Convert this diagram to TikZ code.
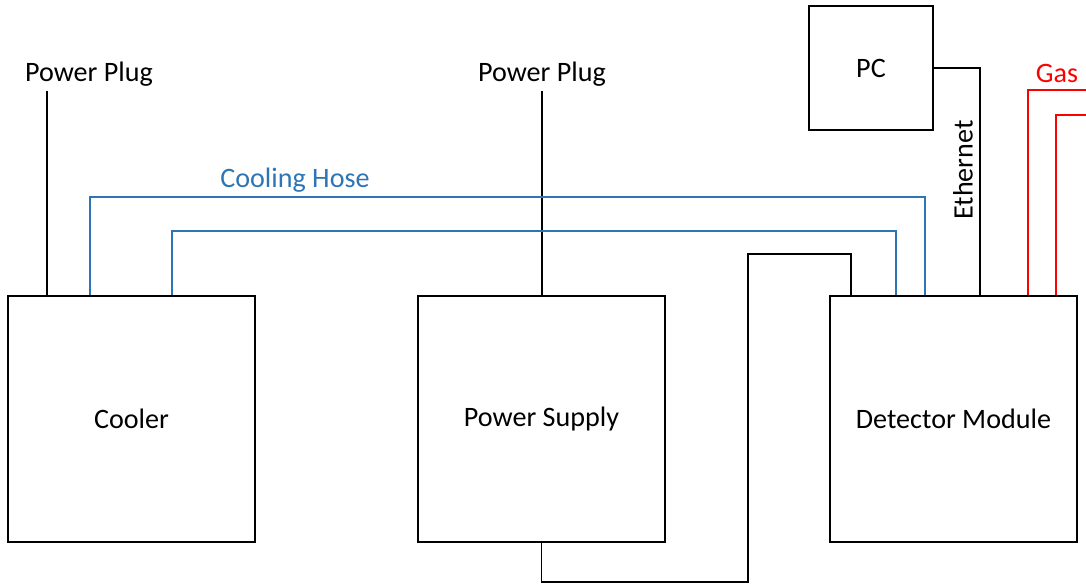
\documentclass[tikz,border=0pt]{standalone}
\usepackage{fontspec}
\setmainfont{Carlito}
\usepackage{tikz}
\definecolor{hoseblue}{RGB}{46,117,182}
\definecolor{gasred}{RGB}{255,0,0}

\begin{document}
\begin{tikzpicture}[scale=0.2]
\tikzstyle{every node}+=[inner sep=0pt, font=\fontsize{16}{19}\selectfont]
\tikzstyle{unit}=[draw=black, line width=1.1pt, minimum width=4.94cm, minimum height=4.92cm]
\tikzstyle{wire}=[black, line width=1.1pt]
\tikzstyle{hose}=[hoseblue, line width=1.1pt]
\tikzstyle{gas}=[gasred, line width=1.1pt]
\useasboundingbox (0,0) rectangle (108.6,-58.6);
\node [unit] (cooler) at (13.15,-41.9) {Cooler};
\node [unit] (psu) at (54.15,-41.9) {Power Supply};
\node [unit] (det) at (95.35,-41.9) {Detector Module};
\node [draw=black, line width=1.1pt, minimum width=2.48cm, minimum height=2.48cm] (pc) at (87.1,-6.8) {PC};
\node (plugA) at (8.9,-7.4) {Power Plug};
\node (plugB) at (54.2,-7.4) {Power Plug};
\node [text=hoseblue] (hoselabel) at (29.5,-18.0) {Cooling Hose};
\node [rotate=90] (ethlabel) at (96.3,-17.0) {Ethernet};
\node [text=gasred] (gaslabel) at (105.7,-7.3) {Gas};
\coordinate (plugAend) at (4.7,-9.1);
\coordinate (plugBend) at (54.2,-9.1);
\coordinate (hoseA) at (9.0,-19.7);
\coordinate (hoseB) at (92.5,-19.7);
\coordinate (hoseC) at (17.2,-23.1);
\coordinate (hoseD) at (89.6,-23.1);
\coordinate (ethA) at (98.0,-6.8);
\coordinate (gasA) at (102.8,-9.0);
\coordinate (gasAend) at (108.6,-9.0);
\coordinate (gasB) at (105.6,-11.5);
\coordinate (gasBend) at (108.6,-11.5);
\coordinate (cabA) at (85.1,-25.4);
\coordinate (cabB) at (74.8,-58.2);
\draw [wire] (plugAend) -- (plugAend |- cooler.north);
\draw [wire] (plugBend) -- (plugBend |- psu.north);
\draw [hose] (hoseA |- cooler.north) -- (hoseA) -- (hoseB) -- (hoseB |- det.north);
\draw [hose] (hoseC |- cooler.north) -- (hoseC) -- (hoseD) -- (hoseD |- det.north);
\draw [wire] (pc.east) -- (ethA) -- (ethA |- det.north);
\draw [gas] (gasA |- det.north) -- (gasA) -- (gasAend);
\draw [gas] (gasB |- det.north) -- (gasB) -- (gasBend);
\draw [wire] (cabA |- det.north) -- (cabA) -| (cabB) -| (psu.south);
\end{tikzpicture}
\end{document}
